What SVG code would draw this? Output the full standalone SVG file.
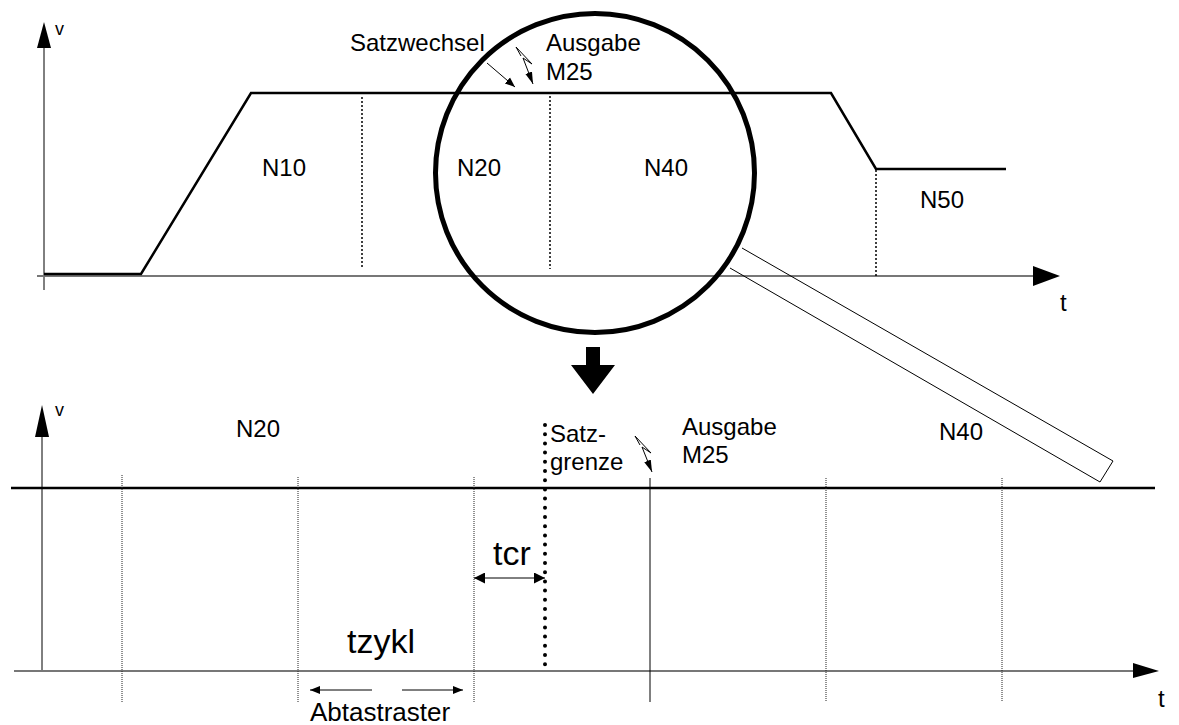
<svg xmlns="http://www.w3.org/2000/svg" width="1179" height="725" viewBox="0 0 1179 725">
<style>
text{font-family:"Liberation Sans",Arial,sans-serif;fill:#000}
.lbl{font-size:24px}
.big{font-size:34px}
.ax{stroke:#777;stroke-width:2;fill:none}
.vax{stroke:#000;stroke-width:1;fill:none}
.prof{stroke:#000;stroke-width:2.5;fill:none;stroke-linejoin:miter}
.dot{stroke:#000;stroke-width:1.5;stroke-dasharray:2 2;fill:none}
.grid{stroke:#222;stroke-width:1;stroke-dasharray:1 1;fill:none}
.thin{stroke:#000;stroke-width:1;fill:none}
.head{fill:#000;stroke:none}
</style>
<defs>
<marker id="ah" viewBox="0 0 10 10" refX="10" refY="5" markerWidth="10" markerHeight="10" markerUnits="userSpaceOnUse" orient="auto">
<path d="M0,1 L10,5 L0,9 Z" fill="#000"/>
</marker>
<marker id="ahn" viewBox="0 0 12 8" refX="12" refY="4" markerWidth="12" markerHeight="8" markerUnits="userSpaceOnUse" orient="auto">
<path d="M0,0.5 L12,4 L0,7.5 Z" fill="#000"/>
</marker>
<marker id="ahd" viewBox="0 0 10 10" refX="10" refY="5" markerWidth="11" markerHeight="11" markerUnits="userSpaceOnUse" orient="auto-start-reverse">
<path d="M0,0 L10,5 L0,10 Z" fill="#000"/>
</marker>
</defs>

<g id="top-chart">
<line class="vax" x1="44" y1="290" x2="44" y2="46"/>
<path class="head" d="M44,22 L51,48 L37,48 Z"/>
<text x="55" y="35" style="font-size:18px">v</text>
<line class="ax" x1="37" y1="276" x2="1035" y2="276"/>
<path class="head" d="M1060,276 L1033,266 L1033,286 Z"/>
<text class="lbl" x="1060" y="311">t</text>
<polyline class="prof" points="44,274 141,274 251,93 831,93 876,169 1006,169"/>
<line class="dot" x1="362" y1="97" x2="362" y2="269"/>
<line class="dot" x1="550" y1="96" x2="550" y2="269"/>
<line class="dot" x1="876" y1="170" x2="876" y2="276"/>
<text class="lbl" x="262" y="176">N10</text>
<text class="lbl" x="457" y="176">N20</text>
<text class="lbl" x="644" y="176">N40</text>
<text class="lbl" x="920" y="208">N50</text>
<text class="lbl" x="350" y="51">Satzwechsel</text>
<text class="lbl" x="546" y="51">Ausgabe</text>
<text class="lbl" x="546" y="80">M25</text>
</g>

<g id="magnifier">
<circle cx="595" cy="173" r="159.5" fill="none" stroke="#000" stroke-width="5"/>
<polyline class="thin" points="742,248 1113,461 1100,482 730,268"/>
<path class="head" d="M586,347 L600,347 L600,365 L615,365 L593,394 L571,365 L586,365 Z"/>
</g>

<g id="bottom-chart">
<line class="vax" x1="42" y1="672" x2="42" y2="434"/>
<path class="head" d="M42,405 L49,437 L35,437 Z"/>
<text x="55" y="416" style="font-size:18px">v</text>
<line x1="11" y1="488" x2="1155" y2="488" stroke="#000" stroke-width="2.5"/>
<line class="ax" x1="14" y1="671" x2="1135" y2="671"/>
<path class="head" d="M1159,671 L1133,663 L1133,678 Z"/>
<text class="lbl" x="1158" y="707">t</text>
<line class="grid" x1="122" y1="475" x2="122" y2="702"/>
<line class="grid" x1="298" y1="477" x2="298" y2="702"/>
<line class="grid" x1="474" y1="477" x2="474" y2="702"/>
<line class="thin" x1="650" y1="478" x2="650" y2="702"/>
<line class="grid" x1="826" y1="478" x2="826" y2="702"/>
<line class="grid" x1="1002" y1="478" x2="1002" y2="702"/>
<line x1="545" y1="425" x2="545" y2="670" stroke="#000" stroke-width="4" stroke-linecap="round" stroke-dasharray="0 9.2"/>
<text class="lbl" x="236" y="437">N20</text>
<text class="lbl" x="939" y="440">N40</text>
<text class="lbl" x="550" y="442">Satz-</text>
<text class="lbl" x="550" y="470">grenze</text>
<text class="lbl" x="682" y="435">Ausgabe</text>
<text class="lbl" x="682" y="463">M25</text>
<text class="big" x="493" y="565">tcr</text>
<text class="big" x="347" y="653">tzykl</text>
<text x="310" y="721" style="font-size:26px">Abtastraster</text>
</g>

<g id="connectors">
<line class="thin" x1="487" y1="63" x2="515" y2="87" marker-end="url(#ah)"/>
<polyline class="thin" points="521,56 516,47 532,64 523,58 533,84" marker-end="url(#ahn)"/>
<polyline class="thin" points="640,445 635,436 651,453 642,447 652,472" marker-end="url(#ahn)"/>
<line class="thin" x1="474" y1="578" x2="545" y2="578" marker-start="url(#ahd)" marker-end="url(#ahd)"/>
<line class="thin" x1="372" y1="690" x2="310" y2="690" marker-end="url(#ah)"/>
<line class="thin" x1="402" y1="690" x2="463" y2="690" marker-end="url(#ah)"/>
</g>
</svg>
